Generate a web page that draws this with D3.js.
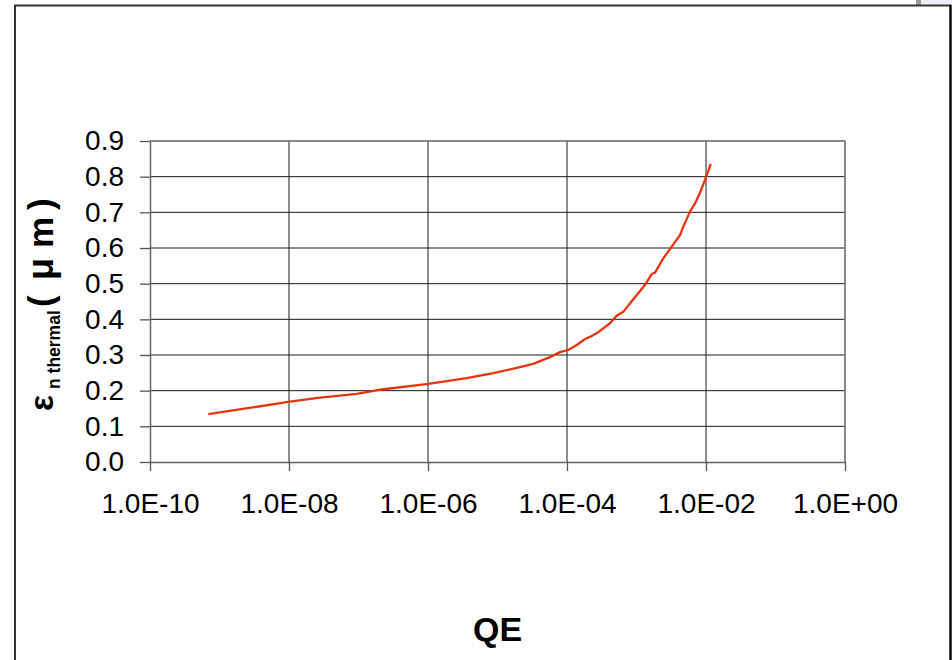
<!DOCTYPE html>
<html>
<head>
<meta charset="utf-8">
<script src="https://cdn.jsdelivr.net/npm/d3@7"></script>
<style>
  html, body { margin: 0; padding: 0; background: #fff; }
  svg { display: block; font-family: "Liberation Sans", Arial, sans-serif; }
</style>
</head>
<body>
<svg id="chart" width="952" height="660"></svg>
<script>
// Quantum efficiency (QE) and the normalised thermal emittance (µm)
const qe = [6.9e-10, 1.03e-8, 2.61e-8, 9.4e-8, 2.28e-7, 1.01e-6, 3.61e-6, 8.7e-6,
            2.11e-5, 3.27e-5, 5.69e-5, 7.92e-5, 1.04e-4, 1.38e-4, 1.82e-4, 2.26e-4,
            2.82e-4, 4.16e-4, 5.19e-4, 6.46e-4, 8.81e-4, 1.12e-3, 1.32e-3, 1.66e-3,
            1.85e-3, 2.43e-3, 3.21e-3, 4.23e-3, 4.71e-3, 5.89e-3, 6.95e-3, 8.20e-3,
            9.68e-3, 1.045e-2, 1.17e-2];
const emittance = [0.134, 0.169, 0.180, 0.191, 0.204, 0.219, 0.235, 0.249,
                   0.266, 0.275, 0.294, 0.308, 0.314, 0.328, 0.345, 0.353,
                   0.364, 0.389, 0.410, 0.421, 0.454, 0.479, 0.496, 0.527,
                   0.531, 0.571, 0.604, 0.636, 0.660, 0.702, 0.725, 0.755,
                   0.791, 0.809, 0.836];

const xTicks = [1e-10, 1e-8, 1e-6, 1e-4, 1e-2, 1];
const xTickLabels = ["1.0E-10", "1.0E-08", "1.0E-06", "1.0E-04", "1.0E-02", "1.0E+00"];
const yTicks = [0, 0.1, 0.2, 0.3, 0.4, 0.5, 0.6, 0.7, 0.8, 0.9];
const yTickLabels = ["0.0", "0.1", "0.2", "0.3", "0.4", "0.5", "0.6", "0.7", "0.8", "0.9"];

const svg = d3.select("#chart");
const plotLeft = 150, plotRight = 845, plotTop = 141, plotBottom = 462;

const x = d3.scaleLog().domain([1e-10, 1]).range([plotLeft, plotRight]);
const y = d3.scaleLinear().domain([0, 0.9]).range([plotBottom, plotTop]);

// window strip in the upper right corner
svg.append("rect").attr("x", 916).attr("y", 0).attr("width", 5).attr("height", 5).attr("fill", "#9a9a9a");
svg.append("rect").attr("x", 921).attr("y", 0).attr("width", 31).attr("height", 5).attr("fill", "#eeeef8");

// outer chart frame
svg.append("path")
  .attr("d", "M15,661 L15,5.5 L950.5,5.5 L950.5,661")
  .attr("fill", "none").attr("stroke", "#333").attr("stroke-width", 2);
svg.append("line").attr("x1", 950.5).attr("x2", 950.5).attr("y1", 5).attr("y2", 661)
  .attr("stroke", "#000").attr("stroke-width", 2);

// gridlines
const grid = svg.append("g").attr("stroke", "#1a1a1a").attr("stroke-width", 1);
grid.selectAll("line.h").data(yTicks.slice(1)).join("line").attr("class", "h")
  .attr("x1", plotLeft).attr("x2", plotRight).attr("y1", d => y(d)).attr("y2", d => y(d));
grid.selectAll("line.v").data(xTicks.slice(1)).join("line").attr("class", "v")
  .attr("y1", plotTop).attr("y2", plotBottom).attr("x1", d => x(d)).attr("x2", d => x(d));

// plot-area frame on top and right
svg.append("path")
  .attr("d", `M${plotLeft},${plotTop} L${plotRight},${plotTop} L${plotRight},${plotBottom}`)
  .attr("fill", "none").attr("stroke", "#888").attr("stroke-width", 1.5);

// axes
const xAxis = d3.axisBottom(x).tickValues(xTicks)
  .tickFormat((d, i) => xTickLabels[i]).tickSizeInner(9).tickSizeOuter(0).tickPadding(22);
const yAxis = d3.axisLeft(y).tickValues(yTicks)
  .tickFormat((d, i) => yTickLabels[i]).tickSizeInner(10).tickSizeOuter(0).tickPadding(16);

const gx = svg.append("g").attr("transform", `translate(0,${plotBottom})`).call(xAxis);
const gy = svg.append("g").attr("transform", `translate(${plotLeft},0)`).call(yAxis);
[gx, gy].forEach(g => {
  g.select(".domain").attr("stroke", "#666").attr("stroke-width", 1.5);
  g.selectAll(".tick line").attr("stroke", "#555").attr("stroke-width", 1.3);
  g.selectAll(".tick text").attr("fill", "#000").attr("font-size", 28)
    .attr("font-family", "'Liberation Sans', Arial, sans-serif");
});

// emittance curve
const pts = qe.map((q, i) => [q, emittance[i]]);
svg.append("path")
  .datum(pts)
  .attr("fill", "none")
  .attr("stroke", "#e8330c")
  .attr("stroke-width", 2.3)
  .attr("stroke-linejoin", "round")
  .attr("d", d3.line().x(d => x(d[0])).y(d => y(d[1])));

// axis titles
svg.append("text")
  .attr("x", (plotLeft + plotRight) / 2).attr("y", 641)
  .attr("text-anchor", "middle")
  .attr("font-size", 34).attr("font-weight", "bold").attr("fill", "#000")
  .text("QE");

const yt = svg.append("text")
  .attr("transform", "translate(53,412) rotate(-90)")
  .attr("font-weight", "bold").attr("fill", "#000");
yt.append("tspan").attr("x", 1).attr("y", 0).attr("font-size", 34).text("ε");
yt.append("tspan").attr("x", 23).attr("y", 7).attr("font-size", 17.5).text("n thermal");
yt.append("tspan").attr("x", 105).attr("y", 0).attr("font-size", 35).text("(");
yt.append("tspan").attr("x", 132).attr("y", 0).attr("font-size", 36).text("μ");
yt.append("tspan").attr("x", 164).attr("y", 0).attr("font-size", 35).text("m");
yt.append("tspan").attr("x", 202).attr("y", 0).attr("font-size", 35).text(")");
</script>
</body>
</html>
